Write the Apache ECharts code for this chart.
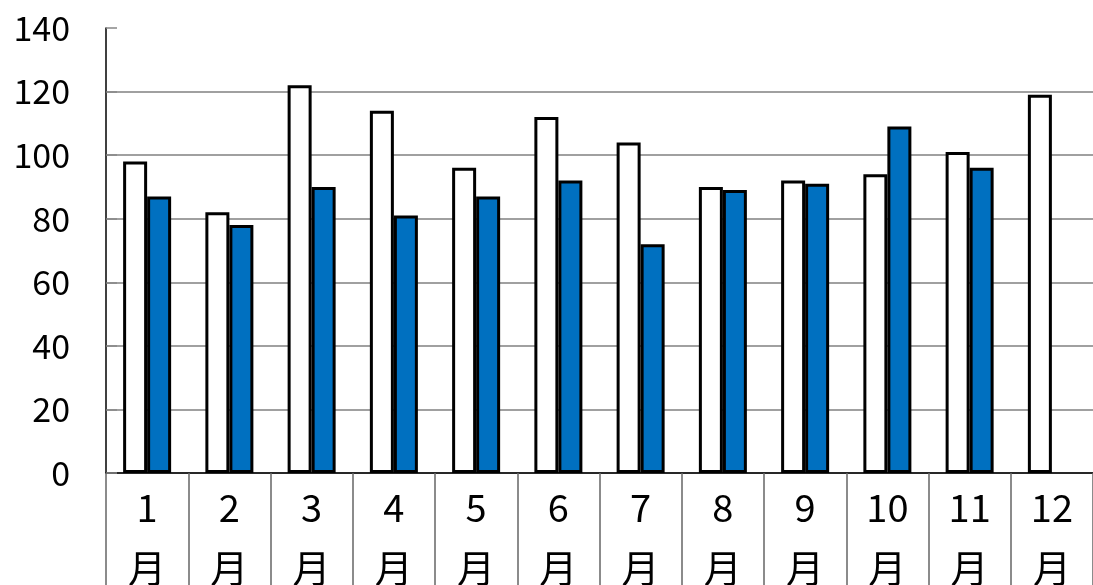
<!DOCTYPE html>
<html><head><meta charset="utf-8">
<script src="https://cdn.jsdelivr.net/npm/echarts@6/dist/echarts.min.js"></script>
<style>html,body{margin:0;padding:0;background:#fff;overflow:hidden}#c{width:1093px;height:585px}</style>
</head><body><div id="c"></div>
<script>
const categories = ['1\n月','2\n月','3\n月','4\n月','5\n月','6\n月','7\n月','8\n月','9\n月','10\n月','11\n月','12\n月'];
const seriesA = [98, 82, 122, 114, 96, 112, 104, 90, 92, 94, 101, 119];
const seriesB = [87, 78, 90, 81, 87, 92, 72, 89, 91, 109, 96, null];
const yTicks = [0, 20, 40, 60, 80, 100, 120, 140];

const chart = echarts.init(document.getElementById('c'), null, {renderer: 'canvas', width: 1093, height: 585});
const font = '"Noto Sans CJK JP", "Noto Sans", sans-serif';
chart.setOption({
  animation: false,
  grid: {left: 106, width: 987, top: 28, height: 445, containLabel: false, outerBoundsMode: 'none'},
  xAxis: {
    type: 'category',
    data: categories,
    axisLine: {show: true, lineStyle: {color: '#000', width: 1.5}},
    axisTick: {show: true, length: 120, interval: 0, lineStyle: {color: '#666', width: 1.5}},
    axisLabel: {color: '#000', fontSize: 38, fontFamily: font, lineHeight: 60, margin: 5, interval: 0}
  },
  yAxis: {
    type: 'value', min: 0, max: 140, interval: 20,
    axisLine: {show: true, lineStyle: {color: '#000', width: 1.5}},
    axisTick: {show: true, inside: true, length: 11, lineStyle: {color: '#888', width: 1.5}},
    axisLabel: {color: '#000', fontSize: 34, fontFamily: font, margin: 36,
      formatter: v => yTicks.includes(v) ? String(v) : ''},
    splitLine: {show: true, lineStyle: {color: ['#808080','#808080','#808080','#808080','#808080','#808080','#808080','rgba(0,0,0,0)'], width: 1.5}}
  },
  series: [
    {type: 'bar', data: seriesA, barWidth: 24, barGap: '0%',
      itemStyle: {color: '#fff', borderColor: '#000', borderWidth: 3}},
    {type: 'bar', data: seriesB, barWidth: 24, barGap: '0%',
      itemStyle: {color: '#0070C0', borderColor: '#000', borderWidth: 3}}
  ]
});
</script></body></html>
